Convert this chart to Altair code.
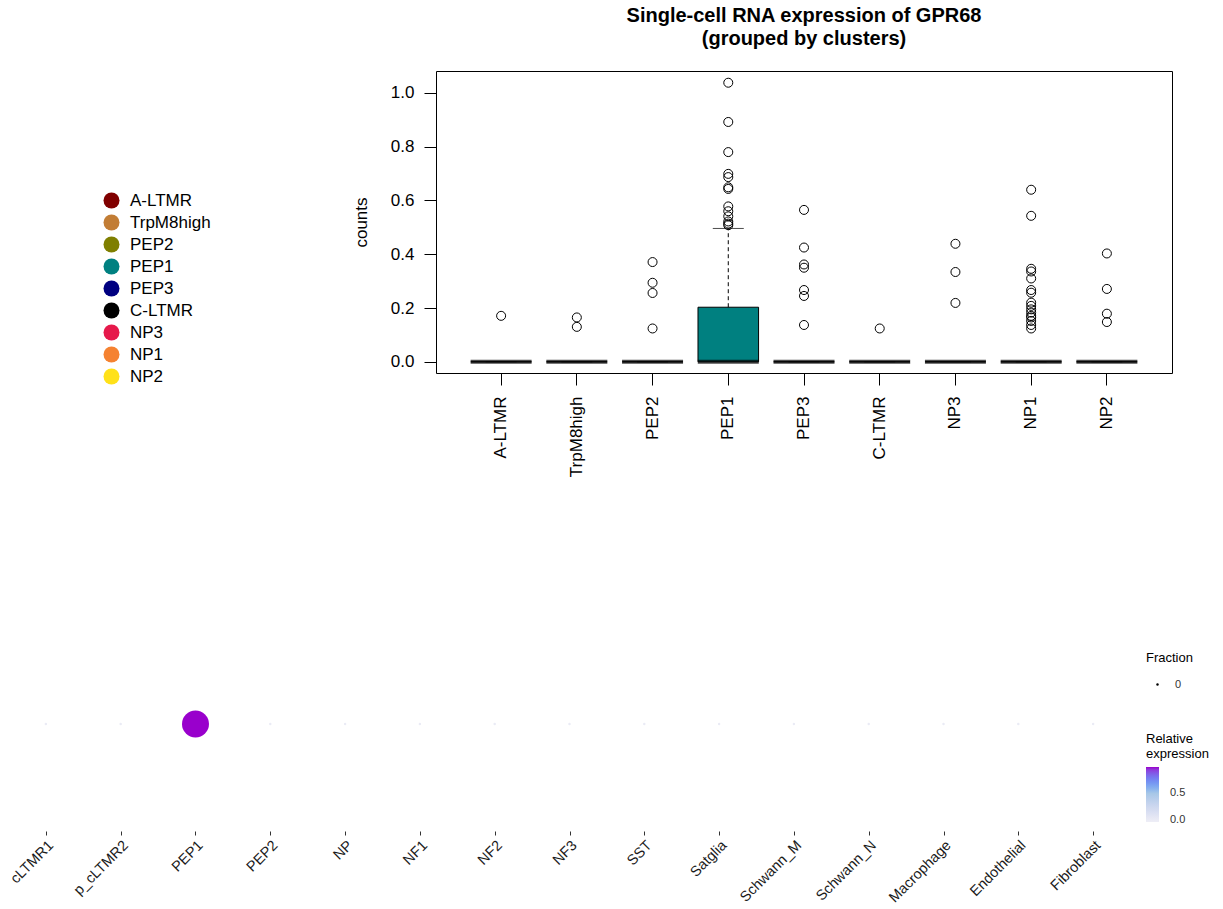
import altair as alt
import pandas as pd

FONT = "Liberation Sans"
W, H = 1223, 909

# ---------------- top panel: box plot ----------------
clusters = ["A-LTMR", "TrpM8high", "PEP2", "PEP1", "PEP3", "C-LTMR", "NP3", "NP1", "NP2"]
colors = ["#800000", "#C27D35", "#7F7F00", "#008080", "#000080", "#000000", "#E6194B", "#F58231", "#FFE119"]
q1 = [0.0, 0.0, 0.0, 0.0, 0.0, 0.0, 0.0, 0.0, 0.0]
median = [0.0, 0.0, 0.0, 0.0, 0.0, 0.0, 0.0, 0.0, 0.0]
q3 = [0.0, 0.0, 0.0, 0.203, 0.0, 0.0, 0.0, 0.0, 0.0]
whisk_hi = [0.0, 0.0, 0.0, 0.496, 0.0, 0.0, 0.0, 0.0, 0.0]

outliers = {
    "A-LTMR": [0.171],
    "TrpM8high": [0.165, 0.130],
    "PEP2": [0.371, 0.294, 0.256, 0.124],
    "PEP1": [1.038, 0.892, 0.780, 0.699, 0.687, 0.649, 0.643, 0.578, 0.560,
             0.541, 0.522, 0.514, 0.508],
    "PEP3": [0.565, 0.425, 0.362, 0.350, 0.267, 0.245, 0.137],
    "C-LTMR": [0.124],
    "NP3": [0.439, 0.334, 0.219],
    "NP1": [0.640, 0.543, 0.346, 0.336, 0.310, 0.267, 0.257, 0.220, 0.208,
            0.195, 0.183, 0.171, 0.165, 0.152, 0.137, 0.124],
    "NP2": [0.403, 0.271, 0.179, 0.148],
}

y_ticks = [0.0, 0.2, 0.4, 0.6, 0.8, 1.0]

box_df = pd.DataFrame({"cluster": clusters, "q1": q1, "median": median,
                       "q3": q3, "hi": whisk_hi})
out_df = pd.DataFrame([{"cluster": c, "value": v}
                       for c in clusters for v in outliers[c]])

# plot-area placement (pixels) of each panel
BOX_X = [436, 1172]
BOX_Y = [373, 71]
DOT_X = [1, 1138]
DOT_Y = [831, 617]

bx_scale = alt.Scale(type="band", domain=clusters, range=BOX_X,
                     paddingInner=0.2, paddingOuter=0.46)
by_scale = alt.Scale(domain=[-0.0416, 1.0816], range=BOX_Y, nice=False, zero=False)

x_axis = alt.Axis(orient="bottom", offset=BOX_Y[0] - H, title=None, labelAngle=-90,
                  labelAlign="right", labelBaseline="middle", labelFontSize=17,
                  labelFont=FONT, labelColor="black", tickSize=12,
                  tickColor="black", labelPadding=11, domain=True,
                  domainColor="black", grid=False)
y_axis = alt.Axis(orient="left", offset=-BOX_X[0], title="counts", values=y_ticks,
                  format=".1f", labelFontSize=17, labelFont=FONT,
                  labelColor="black", tickSize=12, tickColor="black",
                  labelPadding=10, domain=True, domainColor="black", grid=False,
                  titleFontSize=17, titleFont=FONT, titleFontWeight="normal",
                  titleColor="black", titlePadding=20)
top_frame = alt.Axis(orient="top", offset=-BOX_Y[1], title=None, labels=False,
                     ticks=False, domain=True, domainColor="black", grid=False)
right_frame = alt.Axis(orient="right", offset=BOX_X[1] - W, title=None, labels=False,
                       ticks=False, domain=True, domainColor="black", grid=False)

base = alt.Chart(box_df)
boxes = base.mark_bar(stroke="black", strokeWidth=1).encode(
    x=alt.X("cluster:N", sort=clusters, scale=bx_scale, axis=x_axis),
    y=alt.Y("q1:Q", scale=by_scale, axis=y_axis),
    y2="q3:Q",
    fill=alt.Fill("cluster:N", sort=clusters,
                  scale=alt.Scale(domain=clusters, range=colors),
                  legend=alt.Legend(title=None, orient="none", legendX=103,
                                    legendY=192, symbolType="circle",
                                    symbolSize=256, symbolStrokeWidth=0,
                                    labelFontSize=17, labelFont=FONT,
                                    labelColor="black", labelOffset=10,
                                    rowPadding=4)),
)
whisk = base.mark_rule(color="black", strokeDash=[4, 3], strokeWidth=1).encode(
    x=alt.X("cluster:N", sort=clusters, scale=bx_scale, axis=None),
    y=alt.Y("q3:Q", scale=by_scale, axis=None), y2="hi:Q")
cap = base.mark_tick(color="black", size=31, thickness=1).encode(
    x=alt.X("cluster:N", sort=clusters, scale=bx_scale, axis=None),
    y=alt.Y("hi:Q", scale=by_scale, axis=None))
med = base.mark_tick(color="black", size=61, thickness=4).encode(
    x=alt.X("cluster:N", sort=clusters, scale=bx_scale, axis=None),
    y=alt.Y("median:Q", scale=by_scale, axis=None))
pts = alt.Chart(out_df).mark_point(shape="circle", filled=False, color="black",
                                   size=81, strokeWidth=1, opacity=1).encode(
    x=alt.X("cluster:N", sort=clusters, scale=bx_scale, axis=top_frame),
    y=alt.Y("value:Q", scale=by_scale, axis=right_frame))

# ---------------- bottom panel: dot plot ----------------
cell_types = ["cLTMR1", "p_cLTMR2", "PEP1", "PEP2", "NP", "NF1", "NF2", "NF3", "SST",
              "Satglia", "Schwann_M", "Schwann_N", "Macrophage", "Endothelial", "Fibroblast"]
fraction = [0, 0, 0.04, 0, 0, 0, 0, 0, 0, 0, 0, 0, 0, 0, 0]
rel_expr = [0, 0, 1.0, 0, 0, 0, 0, 0, 0, 0, 0, 0, 0, 0, 0]
gene = ["GPR68"] * len(cell_types)

dot_df = pd.DataFrame({"cell": cell_types, "fraction": fraction,
                       "rel": rel_expr, "gene": gene})

dots = alt.Chart(dot_df).mark_circle(opacity=1).encode(
    x=alt.X("cell:N", sort=cell_types,
            scale=alt.Scale(type="point", domain=cell_types, range=DOT_X, padding=0.6),
            axis=alt.Axis(orient="bottom", offset=DOT_Y[0] - H, title=None,
                          labelAngle=-45, labelAlign="right", labelBaseline="top",
                          labelFontSize=14.5, labelFont=FONT, labelColor="#1a1a1a",
                          tickSize=4, tickColor="#333333", labelPadding=3,
                          domain=False, grid=False)),
    y=alt.Y("gene:N", scale=alt.Scale(type="point", domain=["GPR68"], range=DOT_Y,
                                      padding=0.5), axis=None),
    size=alt.Size("fraction:Q", scale=alt.Scale(domain=[0, 0.04], range=[6, 729]),
                  legend=alt.Legend(title="Fraction", values=[0], format=".0f",
                                    orient="none", legendX=1146, legendY=652,
                                    titleFontSize=13, titleFont=FONT,
                                    titleFontWeight="normal", titleColor="black",
                                    labelFontSize=11, labelFont=FONT,
                                    labelColor="#333333", symbolFillColor="black",
                                    symbolStrokeWidth=0, symbolOffset=6,
                                    labelOffset=12, titlePadding=14)),
    color=alt.Color("rel:Q", scale=alt.Scale(domain=[-0.04, 0.5, 1],
                                             range=["#EEEEF6", "#A7C7E7", "#9900CC"]),
                    legend=alt.Legend(title=["Relative", "expression"], orient="none",
                                      legendX=1146, legendY=733, values=[0, 0.5],
                                      format=".1f", gradientLength=55,
                                      gradientThickness=13, gradientStrokeWidth=0,
                                      titleFontSize=13, titleFont=FONT,
                                      titleFontWeight="normal", titleColor="black",
                                      titleLineHeight=15, labelFontSize=11,
                                      labelFont=FONT, labelColor="#333333",
                                      labelBaseline="middle",
                                      labelOffset=11, titlePadding=6)),
)

chart = alt.layer(boxes, whisk, cap, med, pts, dots).resolve_scale(
    x="independent", y="independent"
).resolve_axis(
    x="independent", y="independent"
).properties(
    width=W, height=H,
    autosize=alt.AutoSizeParams(type="none"),
    padding=0,
    title=alt.TitleParams(["Single-cell RNA expression of GPR68", "(grouped by clusters)"],
                          anchor="middle", frame="group", orient="top",
                          baseline="top", offset=0, dx=804 - W / 2, dy=49,
                          fontSize=20, fontWeight="bold", font=FONT,
                          color="black", lineHeight=23),
).configure_view(stroke=None)

chart.save("out.html", embed_options={"renderer": "svg", "actions": False})
